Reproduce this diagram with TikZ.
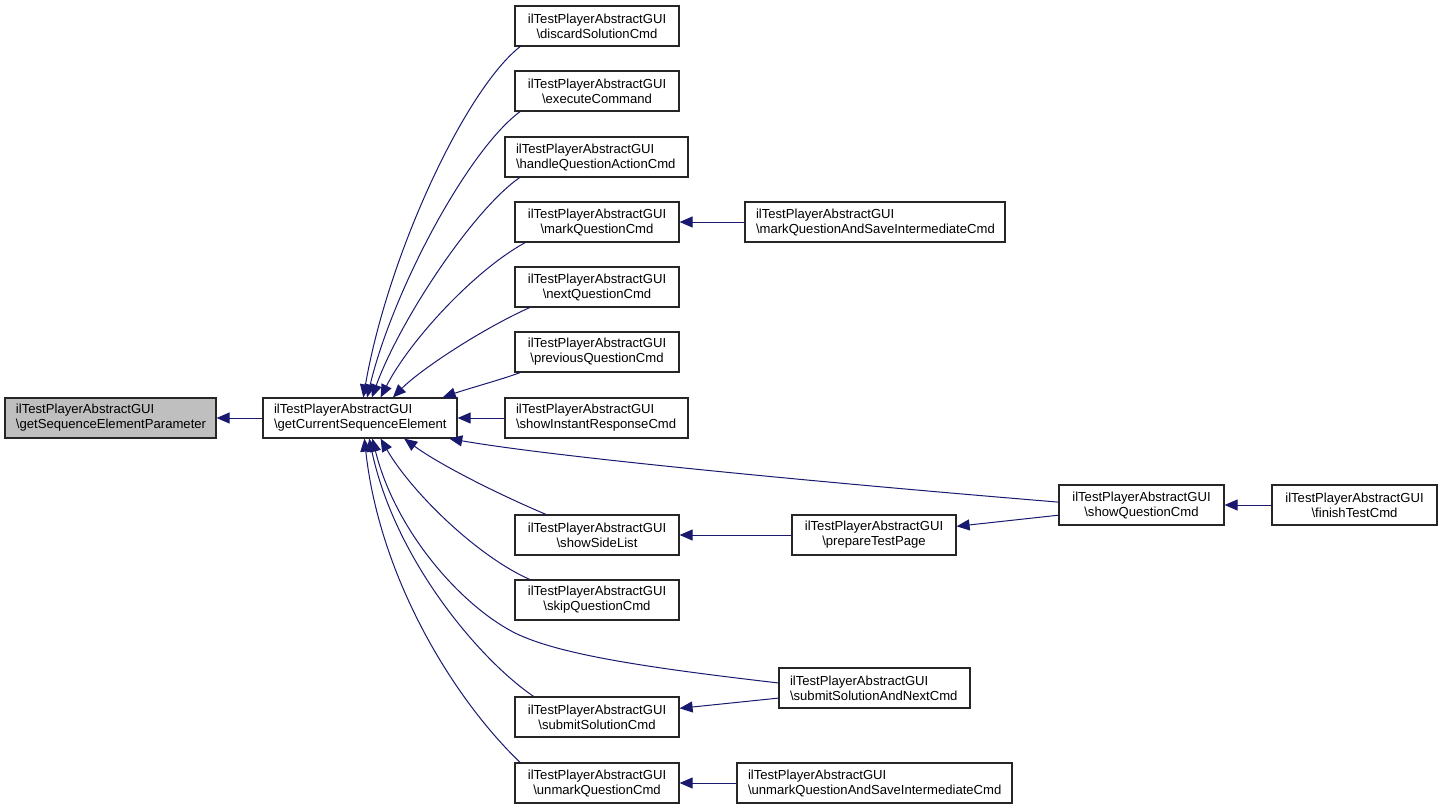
\documentclass[tikz,border=0pt]{standalone}
\usepackage{fontspec}
\setmainfont{Liberation Sans}
\usetikzlibrary{arrows.meta}
\definecolor{edgecol}{HTML}{191970}
\definecolor{rootfill}{HTML}{BFBFBF}
\begin{document}
\begin{tikzpicture}[x=1pt,y=-1pt,
  fn/.style={draw=black!85, line width=1.2pt, inner xsep=11pt, inner ysep=0pt,
    minimum height=40pt, font=\fontsize{13.1}{15}\selectfont, anchor=center},
  fl/.style={fn, align=left},
  fc/.style={fn, align=center},
  call/.style={draw=edgecol, line width=1pt, -{Triangle[length=13pt,width=11pt]}}]
\useasboundingbox (0,0) rectangle (1441,809);
\fill[white] (0,0) rectangle (1441,809);
% nodes
\node[fl, fill=rootfill, text width=189pt] (par) at (110.5,418) {ilTestPlayerAbstractGUI\\\textbackslash getSequenceElementParameter};
\node[fl, text width=172pt] (cur) at (360,418) {ilTestPlayerAbstractGUI\\\textbackslash getCurrentSequenceElement};
\node[fc, text width=142pt] (discard) at (597,26) {ilTestPlayerAbstractGUI\\\textbackslash discardSolutionCmd};
\node[fc, text width=142pt] (execute) at (597,91) {ilTestPlayerAbstractGUI\\\textbackslash executeCommand};
\node[fl, text width=161pt] (handle) at (596.5,157) {ilTestPlayerAbstractGUI\\\textbackslash handleQuestionActionCmd};
\node[fc, text width=142pt] (mark) at (597,222) {ilTestPlayerAbstractGUI\\\textbackslash markQuestionCmd};
\node[fc, text width=142pt] (next) at (597,287) {ilTestPlayerAbstractGUI\\\textbackslash nextQuestionCmd};
\node[fc, text width=142pt] (prev) at (597,352) {ilTestPlayerAbstractGUI\\\textbackslash previousQuestionCmd};
\node[fl, text width=161pt] (instant) at (596.5,418) {ilTestPlayerAbstractGUI\\\textbackslash showInstantResponseCmd};
\node[fc, text width=142pt] (side) at (597,535) {ilTestPlayerAbstractGUI\\\textbackslash showSideList};
\node[fc, text width=142pt] (skip) at (597,600) {ilTestPlayerAbstractGUI\\\textbackslash skipQuestionCmd};
\node[fc, text width=142pt] (submit) at (597,717) {ilTestPlayerAbstractGUI\\\textbackslash submitSolutionCmd};
\node[fc, text width=142pt] (unmark) at (597,783) {ilTestPlayerAbstractGUI\\\textbackslash unmarkQuestionCmd};
\node[fl, text width=238pt] (marksave) at (875,222) {ilTestPlayerAbstractGUI\\\textbackslash markQuestionAndSaveIntermediateCmd};
\node[fc, text width=142pt] (prepare) at (874,535) {ilTestPlayerAbstractGUI\\\textbackslash prepareTestPage};
\node[fc, text width=143pt] (showq) at (1141.5,505) {ilTestPlayerAbstractGUI\\\textbackslash showQuestionCmd};
\node[fc, text width=143pt] (finish) at (1354.5,505) {ilTestPlayerAbstractGUI\\\textbackslash finishTestCmd};
\node[fl, text width=169pt] (submitnext) at (874.5,688) {ilTestPlayerAbstractGUI\\\textbackslash submitSolutionAndNextCmd};
\node[fl, text width=253pt] (unmarksave) at (874.5,783) {ilTestPlayerAbstractGUI\\\textbackslash unmarkQuestionAndSaveIntermediateCmd};
% straight edges
\draw[call] (cur.west) -- (par.east);
\draw[call] (instant.west) -- (cur.east);
\draw[call] (marksave.west) -- (mark.east);
\draw[call] (prepare.west) -- (side.east);
\draw[call] (finish.west) -- (showq.east);
\draw[call] (unmarksave.west) -- (unmark.east);
\draw[call] (showq.187) -- (prepare.6);
\draw[call] (submitnext.186) -- (submit.6);
% curved edges into cur
\draw[call] (discard.195) .. controls (465,90) and (388,255) .. (cur.81);
\draw[call] (execute.195) .. controls (468,150) and (393,290) .. (cur.71);
\draw[call] (handle.195) .. controls (473,210) and (400,320) .. (cur.60);
\draw[call] (mark.196) .. controls (475,270) and (410,340) .. (cur.45);
\draw[call] (next.197) .. controls (480,330) and (420,370) .. (cur.32);
\draw[call] (prev.195) .. controls (500,380) and (470,388) .. (cur.14);
\draw[call] (showq.178) .. controls (850,485) and (560,458) .. (cur.-13);
\draw[call] (side.158) .. controls (500,495) and (440,465) .. (cur.-25);
\draw[call] (skip.163) .. controls (475,555) and (410,490) .. (cur.-45);
\draw[call] (submitnext.177) .. controls (650,668) and (560,655) .. (515,633) .. controls (460,605) and (395,530) .. (cur.-59);
\draw[call] (submit.162) .. controls (480,660) and (395,560) .. (cur.-66);
\draw[call] (unmark.165) .. controls (455,700) and (380,580) .. (cur.-78);
\end{tikzpicture}
\end{document}
